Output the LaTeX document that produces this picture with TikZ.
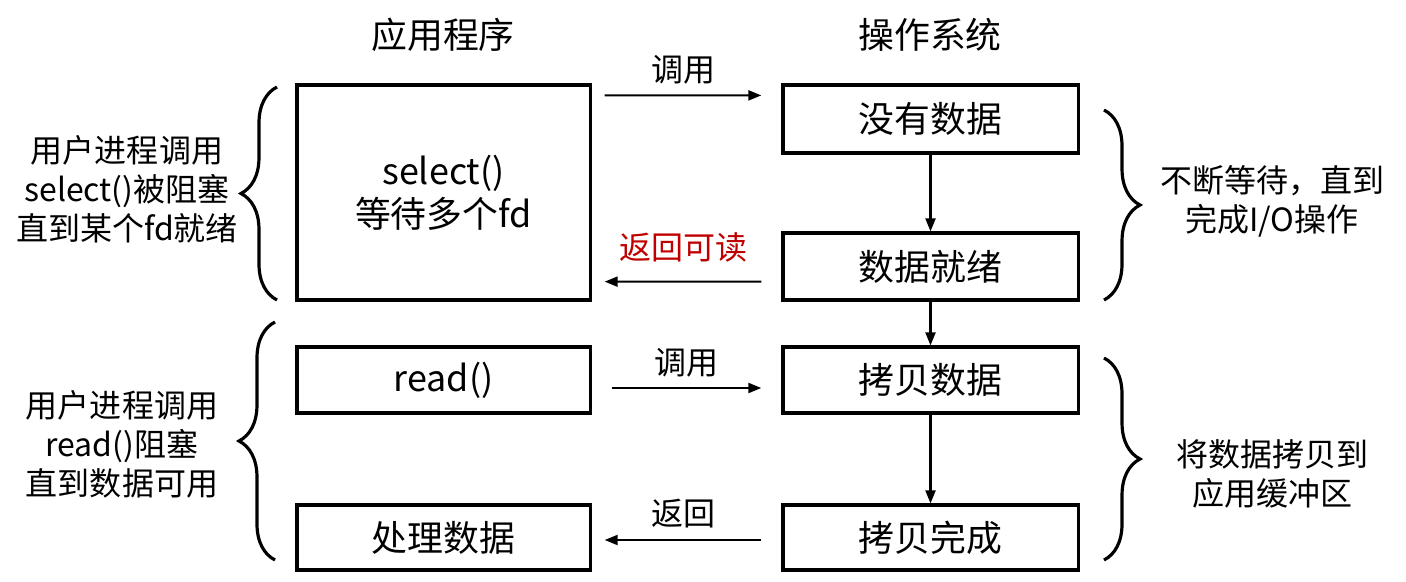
\documentclass[tikz,border=0pt]{standalone}
\usepackage{fontspec}
\setmainfont{Noto Sans CJK SC}
\usetikzlibrary{calc}
\usetikzlibrary{arrows.meta}
\usetikzlibrary{decorations.pathreplacing}

\definecolor{retred}{HTML}{C00000}

\tikzset{
  box/.style={draw, line width=0.9pt, inner sep=0pt, font=\fontsize{10.2}{12.2}\selectfont, align=center},
  flow/.style={-{Triangle[length=0.13cm,width=0.1cm]}, line width=0.6pt},
  note/.style={font=\fontsize{9.1}{11.1}\selectfont, align=center},
  head/.style={font=\fontsize{10.2}{12.2}\selectfont},
  curly/.style={decorate, decoration={brace, amplitude=0.36cm}, line width=0.9pt}
}

\begin{document}
\begin{tikzpicture}[x=0.01cm, y=-0.01cm]
  \useasboundingbox (0,0) rectangle (1406,582);

  % column titles
  \node[head] (apphead) at (443,35) {应用程序};
  \node[head] (oshead) at (930,35) {操作系统};

  % application side
  \node[box, minimum width=2.93cm, minimum height=2.15cm] (sel) at (443.5,192.5) {select()\\等待多个fd};
  \node[box, minimum width=2.93cm, minimum height=0.66cm] (rd) at (443.5,380) {read()};
  \node[box, minimum width=2.93cm, minimum height=0.65cm] (proc) at (443.5,537.5) {处理数据};

  % kernel side
  \node[box, minimum width=2.95cm, minimum height=0.68cm] (nodata) at (930.5,119) {没有数据};
  \node[box, minimum width=2.95cm, minimum height=0.67cm] (ready) at (930.5,266.5) {数据就绪};
  \node[box, minimum width=2.95cm, minimum height=0.66cm] (copy) at (930.5,380) {拷贝数据};
  \node[box, minimum width=2.95cm, minimum height=0.65cm] (done) at (930.5,537.5) {拷贝完成};

  \draw[flow] (nodata) -- (ready);
  \draw[flow] (ready) -- (copy);
  \draw[flow] (copy) -- (done);

  % calls and returns
  \draw[flow] ($ (sel.north east)+(13,12) $) -- node[above=-0.02cm, note] (call1) {调用} ($ (nodata.north west)+(-20,12) $);
  \draw[flow] ($ (ready.south west)+(-20,-20) $) -- node[above=0.07cm, note, text=retred] (back1) {返回可读} ($ (sel.south east)+(13,-20) $);
  \draw[flow] ($ (rd.east)+(20,8) $) -- node[above=-0.02cm, note] (call2) {调用} ($ (copy.west)+(-20,8) $);
  \draw[flow] ($ (done.west)+(-20,2.5) $) -- node[above=-0.01cm, note] (back2) {返回} ($ (proc.east)+(13,2.5) $);

  % braces
  \coordinate (lb1a) at (277,300);
  \coordinate (lb1b) at (277,87);
  \coordinate (lb2a) at (275,560);
  \coordinate (lb2b) at (275,322);
  \coordinate (rb1a) at (1104,110);
  \coordinate (rb1b) at (1104,300);
  \coordinate (rb2a) at (1104,358);
  \coordinate (rb2b) at (1104,560);
  \draw[curly] (lb1a) -- (lb1b);
  \draw[curly] (lb2a) -- (lb2b);
  \draw[curly] (rb1a) -- (rb1b);
  \draw[curly] (rb2a) -- (rb2b);

  % side notes
  \node[note] (selnote) at (127,189) {用户进程调用\\select()被阻塞\\直到某个fd就绪};
  \node[note] (rdnote) at (122,444) {用户进程调用\\read()阻塞\\直到数据可用};
  \node[note] (waitnote) at (1272,201) {不断等待，直到\\完成I/O操作};
  \node[note] (copynote) at (1272,474) {将数据拷贝到\\应用缓冲区};

\end{tikzpicture}
\end{document}
